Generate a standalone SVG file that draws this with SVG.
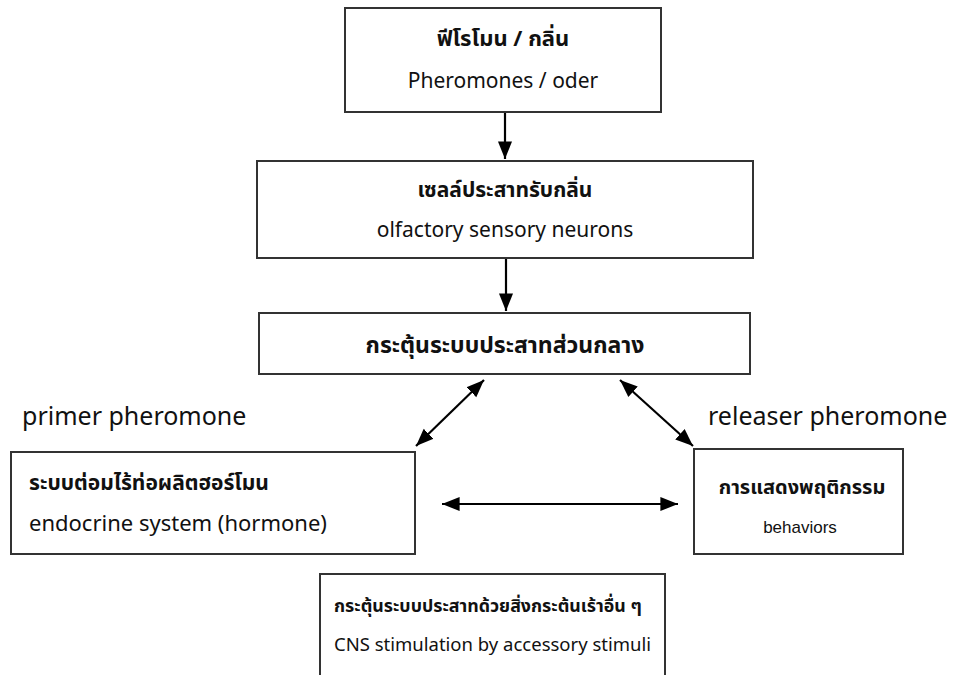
<svg xmlns="http://www.w3.org/2000/svg" width="958" height="675" viewBox="0 0 958 675">
<defs>
<style>
.box{fill:#fff;stroke:#333;stroke-width:2}
.th{font-family:"Noto Sans Thai","Noto Sans","DejaVu Sans",sans-serif;font-weight:bold;font-size:21px;fill:#111}
.en{font-family:"Noto Sans","Open Sans","DejaVu Sans",sans-serif;font-size:21px;fill:#111}
.lbl{font-family:"Noto Sans","Open Sans","DejaVu Sans",sans-serif;font-size:25px;fill:#111}
.ar{fill:none;stroke:#000;stroke-width:2.2}
</style>
<marker id="ah2" viewBox="0 0 10 10" refX="10" refY="5" markerWidth="8" markerHeight="8" orient="auto-start-reverse">
<path d="M0,1 L10,5 L0,9 z" fill="#000"/>
</marker>
</defs>
<rect width="958" height="675" fill="#fff"/>
<g id="connectors">
<line class="ar" x1="505" y1="112" x2="505" y2="159" marker-end="url(#ah2)"/>
<line class="ar" x1="506" y1="258" x2="506" y2="311" marker-end="url(#ah2)"/>
<line class="ar" x1="416" y1="446" x2="484" y2="380" marker-start="url(#ah2)" marker-end="url(#ah2)"/>
<line class="ar" x1="620" y1="380" x2="693" y2="446" marker-start="url(#ah2)" marker-end="url(#ah2)"/>
<line class="ar" x1="442" y1="504" x2="678" y2="504" marker-start="url(#ah2)" marker-end="url(#ah2)"/>
</g>
<g id="n1">
<rect class="box" x="345" y="8" width="316" height="104"/>
<text class="th" x="503" y="46" text-anchor="middle" style="font-size:22px">ฟีโรโมน / กลิ่น</text>
<text class="en" x="503" y="88" text-anchor="middle">Pheromones / oder</text>
</g>
<g id="n2">
<rect class="box" x="257" y="161" width="496" height="97"/>
<text class="th" x="505" y="197" text-anchor="middle">เซลล์ประสาทรับกลิ่น</text>
<text class="en" x="505" y="237" text-anchor="middle">olfactory sensory neurons</text>
</g>
<g id="n3">
<rect class="box" x="259" y="313" width="491" height="61"/>
<text class="th" x="505" y="353" text-anchor="middle" style="font-size:23px">กระตุ้นระบบประสาทส่วนกลาง</text>
</g>
<g id="lbl-primer"><text class="lbl" x="22" y="425">primer pheromone</text></g>
<g id="lbl-releaser"><text class="lbl" x="708" y="425">releaser pheromone</text></g>
<g id="n4">
<rect class="box" x="11" y="452" width="404" height="102"/>
<text class="th" x="29" y="490">ระบบต่อมไร้ท่อผลิตฮอร์โมน</text>
<text class="en" x="29" y="531" style="font-size:22px">endocrine system (hormone)</text>
</g>
<g id="n5">
<rect class="box" x="694" y="449" width="209" height="105"/>
<text class="th" x="802" y="494" text-anchor="middle" style="font-size:20px">การแสดงพฤติกรรม</text>
<text x="800" y="533" text-anchor="middle" style="font-family:'Liberation Sans',Arial,sans-serif;font-size:17px;fill:#111">behaviors</text>
</g>
<g id="n6">
<rect class="box" x="320" y="574" width="345" height="120"/>
<text class="th" x="334" y="612" style="font-size:17.8px">กระตุ้นระบบประสาทด้วยสิ่งกระต้นเร้าอื่น ๆ</text>
<text class="en" x="334" y="651" style="font-size:18.5px">CNS stimulation by accessory stimuli</text>
</g>
</svg>
